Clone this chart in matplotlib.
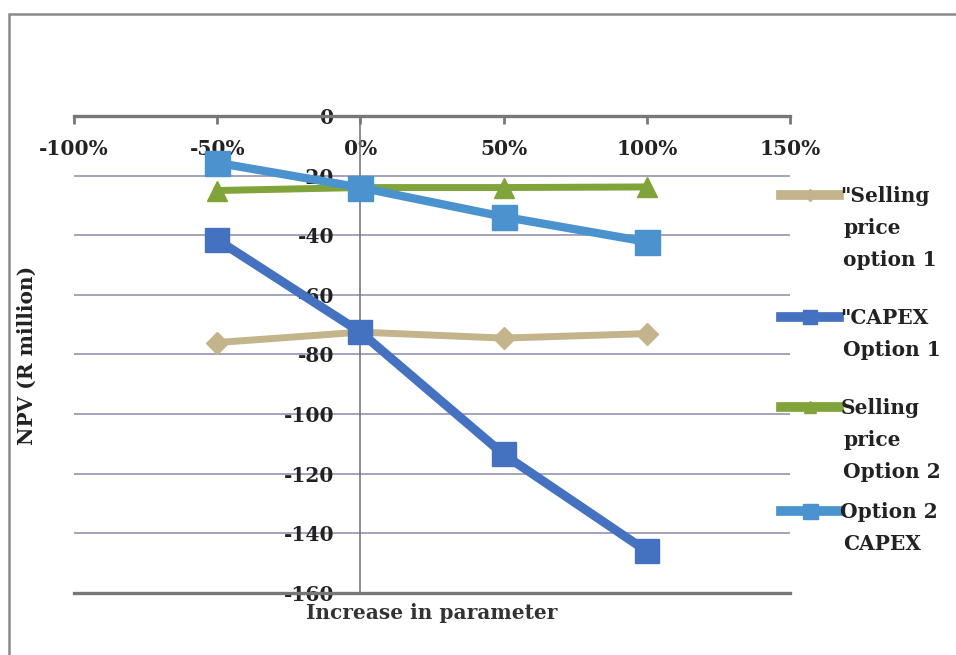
import matplotlib
matplotlib.use("Agg")
import matplotlib.pyplot as plt
from matplotlib.patches import Rectangle
from matplotlib.ticker import FuncFormatter

plt.rcParams["font.family"] = ["DejaVu Serif"]
plt.rcParams["font.weight"] = "bold"

# change in parameter (fraction) and NPV in R million
change = [-0.5, 0.0, 0.5, 1.0]
sell_opt1 = [-76, -72.5, -74.5, -73]
capex_opt1 = [-41.5, -72.5, -113.5, -146]
sell_opt2 = [-25, -24, -24, -23.8]
capex_opt2 = [-15.7, -24, -33.8, -42.2]

labels = ['"Selling\nprice\noption 1', '"CAPEX\nOption 1',
          'Selling\nprice\nOption 2', 'Option 2\nCAPEX']
x_ticks = [-1.0, -0.5, 0.0, 0.5, 1.0, 1.5]
y_ticks = [0, -20, -40, -60, -80, -100, -120, -140, -160]

FS = 14.5
TXT = "#222222"

fig = plt.figure(figsize=(9.56, 6.55), dpi=100)
ax = fig.add_axes([0.0774, 0.0947, 0.749, 0.7282])

series = [
    (sell_opt1, "#c3b48b", "D", 11, 5.0),
    (capex_opt1, "#4571c1", "s", 17, 6.5),
    (sell_opt2, "#80a43a", "^", 14, 5.0),
    (capex_opt2, "#4b93cf", "s", 18, 6.0),
]
handles = []
for vals, col, mk, ms, lw in series:
    h, = ax.plot(change, vals, color=col, marker=mk, markersize=ms, lw=lw,
                 markeredgecolor=col, zorder=3)
    handles.append(h)

ax.set_xlim(-1.0, 1.5)
ax.set_ylim(-160, 0)
ax.set_xticks(x_ticks)
ax.set_yticks(y_ticks)
ax.xaxis.set_major_formatter(FuncFormatter(lambda v, p: "%d%%" % round(v * 100)))
ax.yaxis.set_major_formatter(FuncFormatter(lambda v, p: "%d" % v))

ax.grid(axis="y", color="#8a8aae", lw=1.1, zorder=0)
ax.set_axisbelow(True)

for s in ("top", "bottom"):
    ax.spines[s].set_color("#777777")
    ax.spines[s].set_linewidth(2.4)
ax.spines["right"].set_visible(False)
ax.spines["left"].set_position(("data", 0))
ax.spines["left"].set_color("#7a7a7a")
ax.spines["left"].set_linewidth(1.2)

ax.tick_params(axis="x", top=True, bottom=False, labeltop=True, labelbottom=False,
               direction="in", length=6, width=2, color="#777777",
               pad=-31, labelsize=FS, labelcolor=TXT)
ax.tick_params(axis="y", direction="out", length=0, pad=19,
               labelsize=FS, labelcolor=TXT)

ax.set_xlabel("Increase in parameter", fontsize=FS, fontweight="bold",
              color="#333333", labelpad=7)
fig.text(27 / 956, 1 - 355 / 655, "NPV (R million)", rotation=90,
         ha="center", va="center", fontsize=FS, fontweight="bold", color=TXT)

# legend: one entry per series, continuation lines written underneath
entry_y = [196, 318, 408, 512]
for h, lab, yy in zip(handles, labels, entry_y):
    lines = lab.split("\n")
    leg = fig.legend([h], [lines[0]], loc="center left",
                     bbox_to_anchor=(781 / 956, 1 - yy / 655), frameon=False,
                     fontsize=FS, handlelength=2.9, handletextpad=0.05,
                     markerscale=0.6, borderpad=0, borderaxespad=0)
    for t in leg.get_texts():
        t.set_color(TXT)
    for ln in leg.get_lines():
        ln.set_linewidth(7)
    for i, extra in enumerate(lines[1:], start=1):
        fig.text(843 / 956, 1 - (yy + 32 * i) / 655, extra, ha="left",
                 va="center", fontsize=FS, fontweight="bold", color=TXT)

# outer chart border
fig.add_artist(Rectangle((9 / 956, -0.1), 1.2, 1.1 - 14 / 655,
                         transform=fig.transFigure, fill=False,
                         edgecolor="#8a8a8a", lw=1.8))

fig.savefig("out.png", dpi=100)
